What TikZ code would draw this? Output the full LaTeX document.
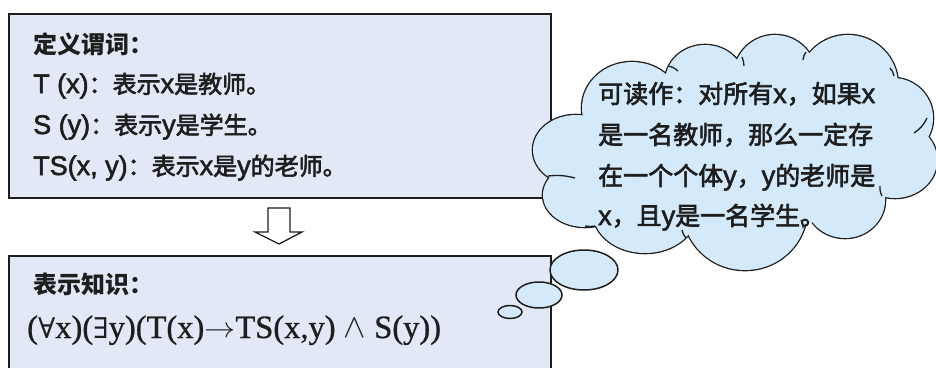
\documentclass[tikz,border=0pt]{standalone}
\usepackage{fontspec}
\setmainfont{Noto Sans CJK SC}
\newfontfamily\cjkmed[FakeBold=2.5]{Noto Sans CJK SC}
\newfontfamily\lat[FakeBold=2]{Liberation Sans}
\newfontfamily\tms[FakeBold=0.8]{Liberation Serif}
\newfontfamily\symf[Scale=0.88]{DejaVu Serif}
\usetikzlibrary{calc}
\definecolor{boxfill}{RGB}{227,232,246}
\definecolor{cloudfill}{RGB}{212,234,250}
\definecolor{ink}{RGB}{30,30,30}
\newcommand{\LT}[1]{{\lat\fontsize{27}{30}\selectfont #1}}
\newcommand{\SY}[1]{{\symf #1}}
\begin{document}
\begin{tikzpicture}[x=1pt,y=-1pt,
  panel/.style={draw=ink, line width=2.3pt, fill=boxfill, inner sep=0pt, anchor=north west},
  boxtxt/.style={anchor=base west, inner sep=0pt, text=ink, font=\cjkmed\fontsize{24}{28}\selectfont},
  headtxt/.style={anchor=base west, inner sep=0pt, text=ink, font=\bfseries\fontsize{24}{28}\selectfont},
  cloudtxt/.style={anchor=base west, inner sep=0pt, text=ink, font=\cjkmed\fontsize{25}{28}\selectfont},
  formula/.style={anchor=base west, inner sep=0pt, text=ink, font=\tms\fontsize{32.5}{36}\selectfont},
  puffline/.style={draw=ink, line width=2.6pt, fill=cloudfill},
  pufffill/.style={fill=cloudfill},
  tail/.style={draw=ink, line width=1.3pt},
  bubble/.style={draw=ink, line width=1.5pt, fill=cloudfill},
  hollow/.style={draw=ink, line width=1.3pt, fill=white, line join=miter}]
\clip (0,0) rectangle (936,367);
\fill[white] (0,0) rectangle (936,367);
% boxes
\node[panel, minimum width=542pt, minimum height=184pt] (defbox) at (8,13) {};
\node[panel, minimum width=542pt, minimum height=160pt] (knowbox) at (8,255) {};
% hollow arrow
\coordinate (arrtop) at (279,208);
\draw[hollow] ($(arrtop)+(-11,0)$) -- ($(arrtop)+(11,0)$) -- ($(arrtop)+(11,24)$) -- ($(arrtop)+(23,24)$)
  -- ($(arrtop)+(0,36)$) -- ($(arrtop)+(-24,24)$) -- ($(arrtop)+(-11,24)$) -- cycle;
% texts in top box
\node[headtxt] (d0) at (33,53) {定义谓词：};
\node[boxtxt] (d1) at (33,93) {\LT{T (x)}：表示\LT{x}是教师。};
\node[boxtxt] (d2) at (33,134) {\LT{S (y)}：表示\LT{y}是学生。};
\node[boxtxt] (d3) at (33,175) {\LT{TS(x, y)}：表示\LT{x}是\LT{y}的老师。};
% bottom box
\node[headtxt] (k0) at (33,293) {表示知识：};
\node[formula] (k1) at (27,338) {(\SY{∀}x)(\SY{∃}y)(T(x)\raisebox{1pt}{\scalebox{1.25}[1.15]{$\rightarrow$}}TS(x,y) \raisebox{0.5pt}{\scalebox{1.35}{$\wedge$}} S(y))};
% cloud
\foreach \cx/\cy/\rx/\ry in {576/150/43/35, 585/195/42/32, 632/108/50/46, 705/82/40/37, 775/78/42/43,
  848/85/50/50, 893/118/40/40, 895/160/42/38, 845/200/40/38, 745/210/62/60, 645/212/52/41}
  \path[puffline] (\cx,\cy) ellipse [x radius=\rx, y radius=\ry];
\foreach \cx/\cy/\rx/\ry in {576/150/43/35, 585/195/42/32, 632/108/50/46, 705/82/40/37, 775/78/42/43,
  848/85/50/50, 893/118/40/40, 895/160/42/38, 845/200/40/38, 745/210/62/60, 645/212/52/41}
  \path[pufffill] (\cx,\cy) ellipse [x radius=\rx, y radius=\ry];
\path[pufffill] (740,150) ellipse [x radius=170, y radius=80];
% inner tails of the cloud
\coordinate (t1) at (668,66);  \coordinate (t2) at (742,57);  \coordinate (t3) at (806,52);
\coordinate (t4) at (890,68);  \coordinate (t5) at (927,118); \coordinate (t6) at (882,196);
\coordinate (t7) at (803,228); \coordinate (t8) at (686,238); \coordinate (t9) at (595,226);
\coordinate (t10) at (548,176);
\draw[tail] (t1) to[bend left=15] ++(10,5);
\draw[tail] (t2) to[bend left=10] ++(2,9);
\draw[tail] (t3) to[bend right=15] ++(-3,8);
\draw[tail] (t4) to[bend left=15] ++(4,8);
\draw[tail] (t5) to[bend left=15] ++(-13,15);
\draw[tail] (t6) to[bend left=15] ++(-2,-10);
\draw[tail] (t7) to[bend right=20] ++(-2,-8);
\draw[tail] (t8) to[bend left=15] ++(-4,-8);
\draw[tail] (t9) to[bend left=10] ++(-10,0);
\draw[tail] (t10) to[bend left=10] ++(27,2);
% thought bubbles
\path[bubble] (584,270) ellipse [x radius=34, y radius=20];
\path[bubble] (539,295) ellipse [x radius=23, y radius=13];
\path[bubble] (510,312) ellipse [x radius=12, y radius=6.5];
% cloud text
\node[cloudtxt] (c1) at (598,103) {可读作：对所有\LT{x}，如果\LT{x}};
\node[cloudtxt] (c2) at (598,144) {是一名教师，那么一定存};
\node[cloudtxt] (c3) at (598,185) {在一个个体\LT{y}，\LT{y}的老师是};
\node[cloudtxt] (c4) at (598,225) {\LT{x}，且\LT{y}是一名学生。};
\end{tikzpicture}
\end{document}
